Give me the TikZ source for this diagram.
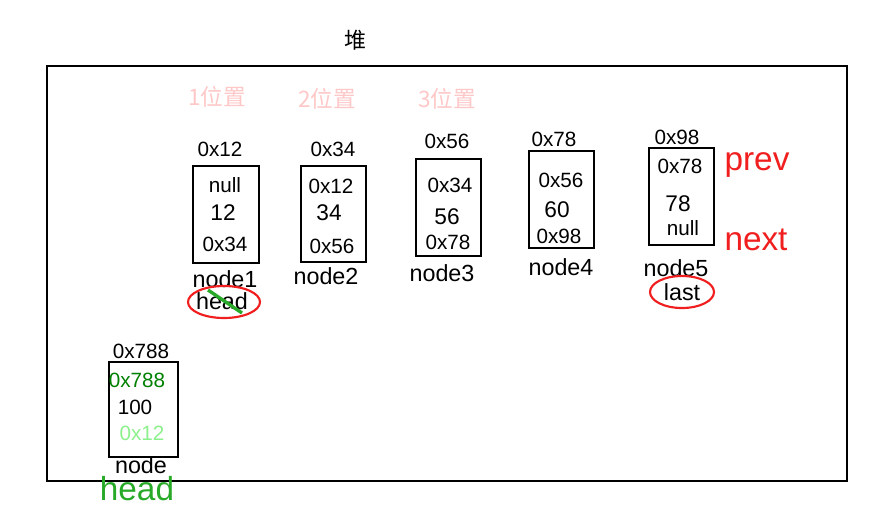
\documentclass[tikz,border=0pt]{standalone}
\usepackage{fontspec}
\setmainfont{Liberation Sans}
\newfontfamily\cjk{Noto Sans CJK SC}
\definecolor{pinkpos}{RGB}{255,200,200}
\definecolor{headgreen}{RGB}{40,170,40}
\definecolor{darkgreen}{RGB}{0,128,0}
\definecolor{lightgreen}{RGB}{140,240,140}
\definecolor{markred}{RGB}{240,30,30}
\tikzset{
  cell/.style={draw,thick,inner sep=0pt},
  addr/.style={inner sep=0pt,font=\fontsize{15.5}{17}\selectfont},
  val/.style={inner sep=0pt,font=\fontsize{17}{19}\selectfont},
  lbl/.style={inner sep=0pt,font=\fontsize{17.5}{19}\selectfont},
  slotlbl/.style={inner sep=0pt,text=pinkpos,font=\cjk\fontsize{17}{19}\selectfont},
  big/.style={inner sep=0pt,font=\fontsize{25}{28}\selectfont},
  ring/.style={draw=markred,line width=1.6pt},
}
\begin{document}
\begin{tikzpicture}[x=0.75pt,y=-0.75pt]
    \useasboundingbox (0,0) rectangle (895,526);
    % heap
    \draw[line width=1.4pt] (47,66) rectangle (847,481);
    \node[inner sep=0pt,font=\cjk\fontsize{16.5}{18}\selectfont] (heap) at (355,40) {堆};
    \node[slotlbl] (p1) at (217,97) {1位置};
    \node[slotlbl] (p2) at (327,99) {2位置};
    \node[slotlbl] (p3) at (447,99) {3位置};

    % node1
    \node[cell,minimum width=66*0.75pt,minimum height=97*0.75pt] (n1) at (226,214.5) {};
    \node[addr] (a1) at (220,149) {0x12};
    \node[addr] at (225,185) {null};
    \node[val] at (223,213) {12};
    \node[addr] at (225,244) {0x34};
    \node[lbl] (l1) at (225,279) {node1};
    \node[lbl] (h1) at (222,301) {head};
    \draw[ring] (224,302) ellipse (36 and 16);
    \draw[headgreen,line width=2.5pt] (208,290) -- (242,313);

    % node2
    \node[cell,minimum width=65*0.75pt,minimum height=96*0.75pt] (n2) at (333.5,214) {};
    \node[addr] (a2) at (333,149) {0x34};
    \node[addr] at (331,186) {0x12};
    \node[val] at (329,213) {34};
    \node[addr] at (332,246) {0x56};
    \node[lbl] (l2) at (326,276) {node2};

    % node3
    \node[cell,minimum width=65*0.75pt,minimum height=97*0.75pt] (n3) at (448.5,207.5) {};
    \node[addr] (a3) at (447,141) {0x56};
    \node[addr] at (450,185) {0x34};
    \node[val] at (447,217) {56};
    \node[addr] at (448,242) {0x78};
    \node[lbl] (l3) at (442,273) {node3};

    % node4
    \node[cell,minimum width=65*0.75pt,minimum height=97*0.75pt] (n4) at (561.5,199.5) {};
    \node[addr] (a4) at (554,139) {0x78};
    \node[addr] at (561,180) {0x56};
    \node[val] at (557,210) {60};
    \node[addr] at (559,236) {0x98};
    \node[lbl] (l4) at (561,267) {node4};

    % node5
    \node[cell,minimum width=65*0.75pt,minimum height=97*0.75pt] (n5) at (681.5,196.5) {};
    \node[addr] (a5) at (677,137) {0x98};
    \node[addr] at (680,166) {0x78};
    \node[val] at (678,204) {78};
    \node[addr] at (683,228) {null};
    \node[lbl] (l5) at (676,268) {node5};
    \node[lbl] (last) at (682,292) {last};
    \draw[ring] (682,292) ellipse (32 and 16);
    \node[big,text=markred] (prev) at (757,165) {prev};
    \node[big,text=markred] (next) at (756,240) {next};

    % new node
    \node[cell,minimum width=69*0.75pt,minimum height=95*0.75pt] (nn) at (143.5,409.5) {};
    \node[addr] (an) at (141,351) {0x788};
    \node[addr,text=darkgreen] at (137,380) {0x788};
    \node[addr] at (135,407) {100};
    \node[addr,text=lightgreen] at (142,433) {0x12};
    \node[lbl] (ln) at (141,465) {node};
    \node[big,text=headgreen] (hn) at (137,489) {head};
\end{tikzpicture}
\end{document}
